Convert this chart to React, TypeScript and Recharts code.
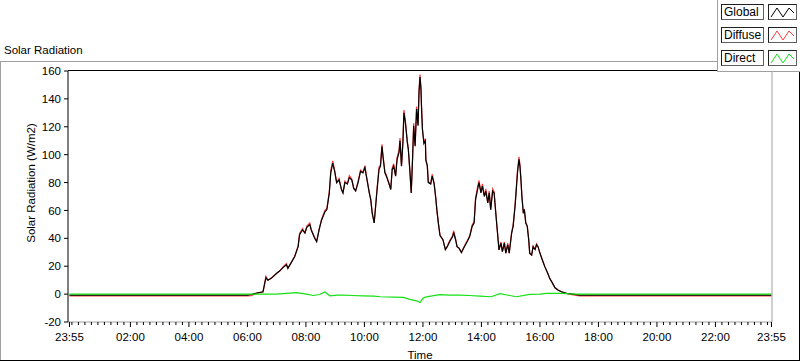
import { Label, Line, LineChart, XAxis, YAxis } from "recharts"

// minutes after midnight (the axis runs 23:55 -> 23:55)
const globalTimes = [
  -5, 360, 368, 379, 392, 398, 402, 409, 420, 426,
  433, 440, 443, 450, 457, 464, 467, 473, 478, 482,
  488, 491, 498, 502, 507, 512, 519, 523, 528, 531,
  535, 539, 543, 548, 553, 556, 560, 565, 569, 574,
  578, 582, 587, 592, 597, 601, 604, 610, 613, 616,
  620, 623, 626, 630, 633, 636, 638, 642, 645, 651,
  654, 657, 660, 664, 667, 671, 673, 676, 679, 681,
  684, 688, 690, 693, 696, 699, 701, 704, 707, 710,
  712, 714, 716, 717, 719, 722, 725, 726, 729, 731,
  736, 739, 743, 746, 749, 752, 755, 761, 766, 770,
  775, 781, 783, 787, 790, 794, 799, 805, 811, 816,
  821, 825, 828, 832, 835, 839, 842, 846, 849, 853,
  856, 859, 863, 866, 870, 873, 876, 880, 883, 887,
  890, 894, 897, 902, 905, 909, 912, 914, 917, 919,
  921, 923, 926, 928, 931, 934, 937, 939, 943, 946,
  950, 953, 956, 960, 965, 970, 976, 980, 986, 991,
  997, 1004, 1015, 1028, 1042, 1435,
]

const globalValues = [
  -0.7, -0.7, -0.3, 0.8, 1.7, 11.8, 10, 11.3, 15, 16.5,
  19, 21, 18.5, 22.6, 27, 34, 42.6, 46, 43.8, 48,
  49.8, 46, 40, 37.7, 46, 53, 59, 60.6, 72.6, 87,
  94, 88, 80, 82, 75, 72.6, 80, 79, 83.5, 82,
  76, 74, 80, 88, 87, 90.7, 84.6, 72.6, 67.8, 58,
  51, 63, 75, 89.5, 91.8, 106, 99, 87, 84.6, 78.6,
  75, 89.5, 91.8, 84.6, 96.7, 101.5, 110, 91.8, 108.7, 130,
  123, 108.7, 104, 89.5, 72.6, 99, 120.7, 106, 132.7, 120.7,
  144.8, 155.6, 147, 135, 118, 108, 110, 96, 91.8, 80,
  79, 84.6, 79, 70, 59, 50, 42, 39, 32, 34,
  37.7, 41.3, 44.2, 39, 34, 33, 29.8, 34, 37.7, 41.3,
  48.6, 51, 67.8, 75, 80, 72.6, 77.4, 70, 73.8, 65.4,
  72.6, 60.6, 73.8, 72.6, 55.8, 43.8, 31.7, 36.6, 30.5, 36.6,
  29.4, 35.4, 29.4, 43.8, 48.6, 63, 77.4, 87, 96.7, 91.8,
  82, 70, 58, 60.6, 51, 48.6, 39, 29.4, 28, 34,
  32, 35.4, 34, 29.4, 24.5, 19.7, 15, 11.3, 7.7, 4.5,
  2.9, 1.7, 0.5, 0, -0.7, -0.7,
]

const diffuseValues = [
  -1.3, -1.3, -1.1, 0.6, 1.5, 12.8, 10, 11.6, 15, 16.5,
  19.5, 21.8, 18.5, 23, 27, 34.5, 43.5, 47, 43.8, 48.8,
  51, 46, 40.5, 37.7, 46.5, 53.5, 60, 61.5, 73.5, 88.5,
  95.5, 88.5, 80, 83, 75, 72.6, 81, 79, 85, 82.5,
  76, 74, 81, 89, 87.5, 92, 85, 72.6, 67.8, 58,
  51, 63.5, 76, 91, 93, 107.5, 99.5, 87.5, 85.5, 78.6,
  75, 90.5, 93.5, 85, 98, 103, 112, 92, 110, 132,
  124.5, 109.5, 104.5, 89.5, 72.6, 100, 122.5, 106.5, 134.5, 121.5,
  146.5, 157.5, 148, 136, 118.5, 109, 111.5, 96.5, 92.5, 80.5,
  79.5, 86, 79.5, 70, 59, 50, 42.5, 39, 32, 34.5,
  38.5, 42, 45.5, 39.5, 34, 33, 29.8, 34.5, 38.5, 42,
  49.5, 52, 69, 76.5, 81.5, 73, 79, 70.5, 75.5, 65.4,
  74, 60.6, 75.5, 73.5, 55.8, 43.8, 31.7, 37.5, 30.5, 37.5,
  29.4, 36.5, 29.4, 44.5, 49.5, 64, 79, 89, 98.5, 92.5,
  83, 70, 58, 61, 51, 49, 39, 29.4, 28, 34.5,
  32, 36, 34, 29.4, 24.5, 19.7, 15, 11.3, 7.7, 4.5,
  2.9, 1.7, 0.3, -0.5, -1.3, -1.3,
]

const directTimes = [
  -5, 380, 420, 440, 461, 481, 495, 508, 519, 529,
  545, 556, 575, 597, 620, 632, 660, 680, 693, 707,
  714, 720, 725, 736, 755, 775, 795, 815, 837, 860,
  878, 895, 912, 939, 960, 973, 1007, 1028, 1435,
]

const directValues = [
  0, 0, 0, 0.5, 1, 0, -1, -0.3, 1.5, -1.2,
  -0.7, -0.7, -1, -1.2, -1.5, -1.9, -2.2, -2.4, -3.8, -4.8,
  -6, -3, -2.2, -1.4, -0.4, -0.7, -0.7, -1, -1.4, -1.9,
  0.3, -0.8, -1.9, -0.2, 0, 0.5, 0.5, 0, 0,
]

const yTicks = [-20, 0, 20, 40, 60, 80, 100, 120, 140, 160]
const majorTicks = [-5, 120, 240, 360, 480, 600, 720, 840, 960, 1080, 1200, 1320, 1435]

const seriesNames = ["Global", "Diffuse", "Direct"]
const seriesColors = ["#000000", "#ff3b3b", "#14e014"]

const globalData = globalTimes.map((t, i) => ({ t, v: globalValues[i] }))
const diffuseData = globalTimes.map((t, i) => ({ t, v: diffuseValues[i] }))
const directData = directTimes.map((t, i) => ({ t, v: directValues[i] }))

// minor ticks: 9 per 2 hours, starting at midnight
const minorTicks: number[] = []
for (let k = 0; k < 108; k++) {
  if (k % 9 !== 0) minorTicks.push((k * 40) / 3)
}
const xTicks = [...majorTicks, 0, ...minorTicks].sort((a, b) => a - b)

const FONT = "'Liberation Sans', Arial, sans-serif"
const FS = 11.5

function fmtTime(m: number) {
  const mm = ((Math.round(m) % 1440) + 1440) % 1440
  const h = Math.floor(mm / 60)
  const mi = mm % 60
  return `${String(h).padStart(2, "0")}:${String(mi).padStart(2, "0")}`
}

function XTick(props: any) {
  const { x, y, payload } = props
  const major = majorTicks.includes(payload.value)
  return (
    <g>
      <line x1={x} x2={x} y1={y} y2={y + (major ? 5 : 3)} stroke="#000" />
      {major && (
        <text x={x} y={y + 19} textAnchor="middle" fill="#000" fontSize={FS} fontFamily={FONT}>
          {fmtTime(payload.value)}
        </text>
      )}
    </g>
  )
}

function LegendItem({ name, color }: { name: string; color: string }) {
  const box = {
    position: "absolute" as const,
    height: 16,
    background: "#fff",
    borderTop: "1px solid #202020",
    borderLeft: "1px solid #202020",
    borderBottom: "1px solid #606060",
    borderRight: "1px solid #606060",
    boxSizing: "border-box" as const,
  }
  return (
    <div style={{ position: "relative", height: 23 }}>
      <div style={{ ...box, left: 3, width: 43, fontSize: 12, lineHeight: "14px", paddingLeft: 2 }}>{name}</div>
      <div style={{ ...box, left: 50, width: 29 }}>
        <svg width={27} height={14} style={{ display: "block" }}>
          <polyline points="2,12 8,3 14,12 20,3 25,8" fill="none" stroke={color} strokeWidth={1} />
        </svg>
      </div>
    </div>
  )
}

export default function App() {
  return (
    <div
      style={{
        position: "absolute",
        left: 0,
        top: 0,
        width: 800,
        height: 361,
        background: "#fff",
        fontFamily: FONT,
        color: "#000",
        overflow: "hidden",
      }}
    >
      <div style={{ position: "absolute", left: 4, top: 43, fontSize: FS, lineHeight: "14px" }}>Solar Radiation</div>

      {/* outer panel frame */}
      <div style={{ position: "absolute", left: 0, top: 61, width: 717, height: 1, background: "#a0a0a0" }} />
      <div style={{ position: "absolute", left: 0, top: 61, width: 1, height: 299, background: "#a0a0a0" }} />
      <div style={{ position: "absolute", left: 0, top: 360, width: 800, height: 1, background: "#000" }} />
      <div style={{ position: "absolute", left: 799, top: 72, width: 1, height: 289, background: "#000" }} />

      <div style={{ position: "absolute", left: 0, top: 0 }}>
        <LineChart width={800} height={361} margin={{ top: 71, right: 0, bottom: 1, left: 0 }}>
          <XAxis
            type="number"
            dataKey="t"
            domain={[-8, 1436]}
            allowDataOverflow
            ticks={xTicks}
            interval={0}
            tickSize={0}
            tickMargin={0}
            tickLine={false}
            axisLine={{ stroke: "#a0a0a0" }}
            tick={XTick}
            height={38}
          >
            <Label value="Time" position="insideBottom" offset={1} fill="#000" fontSize={FS} fontFamily={FONT} />
          </XAxis>
          <YAxis
            type="number"
            domain={[-20, 160]}
            ticks={yTicks}
            interval={0}
            width={68}
            tickSize={4}
            tickMargin={3}
            axisLine={{ stroke: "#000" }}
            tickLine={{ stroke: "#000" }}
            tick={{ fill: "#000", fontSize: FS, fontFamily: FONT }}
          >
            <Label
              content={() => (
                <text
                  x={31}
                  y={183}
                  transform="rotate(-90 31 183)"
                  textAnchor="middle"
                  dominantBaseline="central"
                  fill="#000"
                  fontSize={FS}
                  fontFamily={FONT}
                >
                  Solar Radiation (W/m2)
                </text>
              )}
            />
          </YAxis>
          <YAxis
            yAxisId="right"
            orientation="right"
            type="number"
            domain={[-20, 160]}
            width={28}
            tick={false}
            tickLine={false}
            axisLine={{ stroke: "#a0a0a0" }}
          />
          <Line
            data={diffuseData}
            dataKey="v"
            type="linear"
            stroke={seriesColors[1]}
            strokeWidth={1.2}
            dot={false}
            isAnimationActive={false}
          />
          <Line
            data={globalData}
            dataKey="v"
            type="linear"
            stroke={seriesColors[0]}
            strokeWidth={1.2}
            dot={false}
            isAnimationActive={false}
          />
          <Line
            data={directData}
            dataKey="v"
            type="linear"
            stroke={seriesColors[2]}
            strokeWidth={1.2}
            dot={false}
            isAnimationActive={false}
          />
        </LineChart>
      </div>

      {/* plot top border */}
      <div style={{ position: "absolute", left: 68, top: 70, width: 649, height: 1, background: "#000" }} />

      {/* legend */}
      <div
        style={{
          position: "absolute",
          left: 717,
          top: 0,
          width: 83,
          height: 72,
          background: "#fff",
          borderLeft: "1px solid #a0a0a0",
          borderBottom: "1px solid #a0a0a0",
          boxSizing: "border-box",
          paddingTop: 4,
        }}
      >
        {seriesNames.map((n, i) => (
          <LegendItem key={n} name={n} color={seriesColors[i]} />
        ))}
      </div>
    </div>
  )
}
